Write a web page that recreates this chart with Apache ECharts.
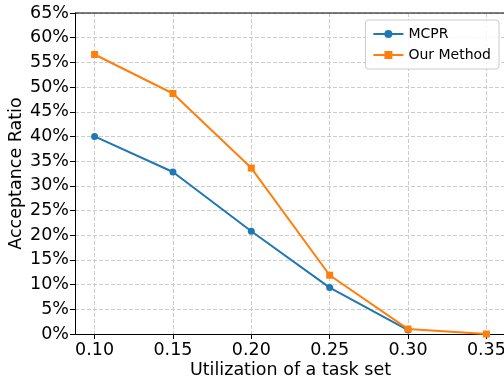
<!DOCTYPE html>
<html>
<head>
<meta charset="UTF-8">
<title>Acceptance Ratio</title>
<script type="text/javascript" src="https://cdn.jsdelivr.net/npm/echarts@6/dist/echarts.min.js"></script>
<style>body{margin:0;background:#fff;}</style>
</head>
<body>
<div id="main" style="width:504px;height:381px;"></div>
<script type="text/javascript">
// data
var utilization = [0.10, 0.15, 0.20, 0.25, 0.30, 0.35];
var mcpr = [40.0, 32.8, 20.8, 9.4, 0.8];
var ourMethod = [56.6, 48.7, 33.6, 11.9, 1.0, 0.0];

function pairs(xs, ys) {
  var out = [];
  for (var i = 0; i < ys.length; i++) out.push([xs[i], ys[i]]);
  return out;
}

var font = 'DejaVu Sans';
var mychart = echarts.init(document.getElementById('main'));

var option = {
  animation: false,
  textStyle: { fontFamily: font },
  grid: { left: 75, top: 13, right: -2, bottom: 47, containLabel: false, outerBoundsMode: 'none' },
  legend: {
    data: ['MCPR', 'Our Method'],
    orient: 'vertical',
    right: 5,
    top: 20,
    itemWidth: 30,
    itemHeight: 10,
    itemGap: 7,
    padding: [7, 8, 7, 7],
    borderColor: '#cccccc',
    borderWidth: 1,
    borderRadius: 3,
    backgroundColor: 'rgba(255,255,255,0.85)',
    textStyle: { fontFamily: font, fontSize: 14, color: '#000' }
  },
  xAxis: {
    type: 'value',
    min: 0.0875,
    max: 0.3625,
    splitNumber: 5,
    name: 'Utilization of a task set',
    nameLocation: 'middle',
    nameGap: 27,
    nameMoveOverlap: false,
    nameTextStyle: { fontFamily: font, fontSize: 17.5, color: '#000' },
    axisLine: { show: true, lineStyle: { color: '#000', width: 1 } },
    axisTick: { show: true, length: 5, lineStyle: { color: '#000' } },
    axisLabel: {
      showMinLabel: false, showMaxLabel: false,
      fontFamily: font, fontSize: 17.5, color: '#000', margin: 7,
      formatter: function (v) { return v.toFixed(2); }
    },
    splitLine: { show: true, lineStyle: { color: '#cccccc', type: 'dashed', width: 1 } }
  },
  yAxis: {
    type: 'value',
    min: 0,
    max: 65,
    interval: 5,
    name: 'Acceptance Ratio',
    nameLocation: 'middle',
    nameGap: 50,
    nameMoveOverlap: false,
    nameTextStyle: { fontFamily: font, fontSize: 17.5, color: '#000' },
    axisLine: { show: true, lineStyle: { color: '#000', width: 1 } },
    axisTick: { show: true, length: 5, lineStyle: { color: '#000' } },
    axisLabel: { fontFamily: font, fontSize: 17.5, color: '#000', margin: 6, formatter: '{value}%' },
    splitLine: { show: true, lineStyle: { color: '#cccccc', type: 'dashed', width: 1 } }
  },
  series: [{
    name: 'MCPR',
    type: 'line',
    data: pairs(utilization, mcpr),
    symbol: 'circle',
    symbolSize: 7,
    color: '#1f77b4',
    lineStyle: { width: 2 },
    z: 3
  }, {
    name: 'Our Method',
    type: 'line',
    data: pairs(utilization, ourMethod),
    symbol: 'rect',
    symbolSize: 7,
    color: '#ff7f0e',
    lineStyle: { width: 2 },
    z: 4
  }]
};

mychart.setOption(option);

// top spine drawn as a graphic line over the plot's top edge
var topY = mychart.convertToPixel({ yAxisIndex: 0 }, 65);
mychart.setOption({
  graphic: [{
    type: 'line',
    shape: { x1: 75, y1: topY, x2: 504, y2: topY },
    style: { stroke: '#000', lineWidth: 1 },
    z: 10
  }]
});
</script>
</body>
</html>
